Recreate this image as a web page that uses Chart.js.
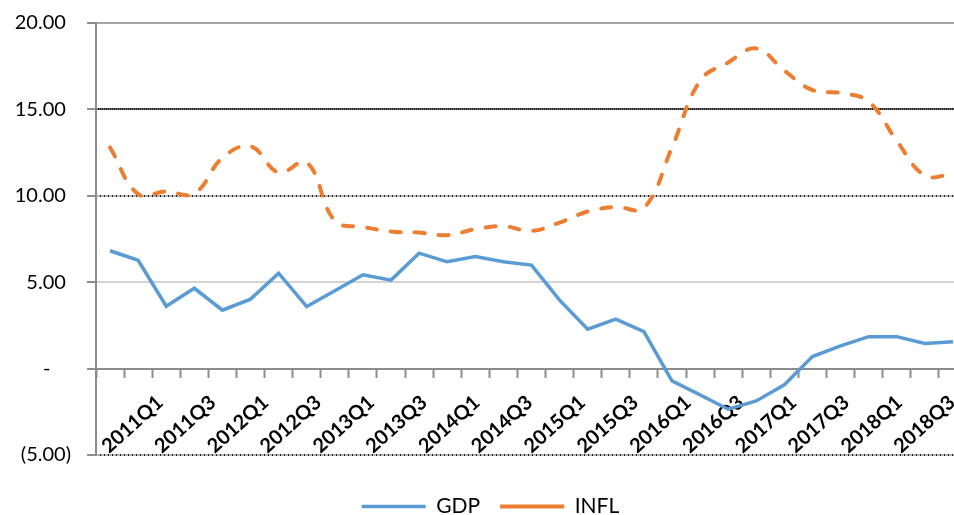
<!DOCTYPE html>
<html>
<head>
<meta charset="utf-8">
<script src="https://cdn.jsdelivr.net/npm/chart.js@4.4.1/dist/chart.umd.min.js"></script>
<style>
  html, body { margin: 0; padding: 0; overflow: hidden; background: #fff; }
  #wrap { width: 994px; height: 515px; }
</style>
</head>
<body>
<div id="wrap"><canvas id="gdpChart"></canvas></div>
<script>
// quarterly data, 2011Q1 .. 2018Q3
var quarters = ["2011Q1","2011Q2","2011Q3","2011Q4","2012Q1","2012Q2","2012Q3","2012Q4",
                "2013Q1","2013Q2","2013Q3","2013Q4","2014Q1","2014Q2","2014Q3","2014Q4",
                "2015Q1","2015Q2","2015Q3","2015Q4","2016Q1","2016Q2","2016Q3","2016Q4",
                "2017Q1","2017Q2","2017Q3","2017Q4","2018Q1","2018Q2","2018Q3"];
var gdp  = [6.82, 6.27, 3.61, 4.65, 3.38, 4.02, 5.52, 3.59, 4.50, 5.43, 5.12, 6.68, 6.18, 6.49, 6.18, 5.99,
            3.96, 2.28, 2.86, 2.14, -0.71, -1.52, -2.35, -1.87, -0.94, 0.70, 1.31, 1.85, 1.85, 1.45, 1.56];
var infl = [12.80, 10.10, 10.25, 10.13, 12.20, 12.86, 11.35, 11.93, 8.55, 8.20, 7.93, 7.87, 7.72, 8.07, 8.24, 7.97,
            8.45, 9.09, 9.35, 9.30, 12.80, 16.66, 17.72, 18.53, 17.24, 16.12, 15.95, 15.45, 13.18, 11.18, 11.26];
var yMin = -5, yMax = 20, yStep = 5;

// every other quarter gets a label; excel spreads them a bit tighter than the categories
var shownLabels = quarters.filter(function(q, i) { return i % 2 === 0; });
var labelMin = -1.212, labelMax = 15.284;

var canvas = document.getElementById("gdpChart");
var ctx = canvas.getContext("2d");

function dotted(bg, dot, step) {
  var c = document.createElement("canvas");
  c.width = step; c.height = 4;
  var g = c.getContext("2d");
  g.fillStyle = bg; g.fillRect(0, 0, step, 4);
  g.fillStyle = dot; g.fillRect(0, 0, 1, 4);
  return ctx.createPattern(c, "repeat");
}
var darkDots = dotted("#6e6e6e", "#1a1a1a", 2);
var lightDots = dotted("#b8b8b8", "#202020", 4);

function gridColor(c) {
  var v = c.tick.value;
  if (v == 20) return "#a6a6a6";
  if (v == 15) return darkDots;
  if (v == 5) return "#d4d4d4";
  if (v == 0) return "#8c8c8c";
  return lightDots;
}

function accounting(v) {
  if (v == 0) return "-    ";
  if (v < 0) return "(" + Math.abs(v).toFixed(2) + ")";
  return v.toFixed(2) + " ";
}

var font = "Lato";

new Chart(ctx, {
  type: "line",
  data: {
    labels: quarters,
    datasets: [
      {
        label: "GDP",
        data: gdp,
        borderColor: "#5b9bd5",
        backgroundColor: "#5b9bd5",
        borderWidth: 3.5,
        pointRadius: 0,
        tension: 0,
        fill: false
      },
      {
        label: "INFL",
        data: infl,
        borderColor: "#ed7d31",
        backgroundColor: "#ed7d31",
        borderWidth: 4,
        borderDash: [10, 14],
        borderCapStyle: "round",
        pointRadius: 0,
        tension: 0.4,
        fill: false
      }
    ]
  },
  options: {
    responsive: true,
    maintainAspectRatio: false,
    animation: false,
    devicePixelRatio: 1,
    layout: { padding: { top: 0, right: 27, bottom: -12, left: 14 } },
    plugins: {
      tooltip: { enabled: false },
      legend: {
        position: "bottom",
        title: { display: true, text: "", font: { size: 17.5 }, padding: 0 },
        labels: {
          usePointStyle: true,
          pointStyle: "line",
          pointStyleWidth: 64,
          padding: 20,
          color: "#000",
          font: { family: font, size: 21 }
        }
      }
    },
    scales: {
      x: {
        position: { y: 0 },
        offset: true,
        grid: { offset: true, drawOnChartArea: false, tickLength: 8, tickColor: "#8c8c8c", tickWidth: 2 },
        border: { color: "#8c8c8c", width: 2 },
        ticks: { display: false }
      },
      xLab: {
        type: "linear",
        axis: "x",
        position: { y: 0 },
        bounds: "data",
        min: labelMin,
        max: labelMax,
        grid: { display: false },
        border: { display: false },
        afterBuildTicks: function(s) {
          s.ticks = shownLabels.map(function(q, i) { return { value: i }; });
        },
        ticks: {
          autoSkip: false,
          minRotation: 42,
          maxRotation: 42,
          padding: 14,
          color: "#000",
          font: { family: font, size: 20, weight: "bold" },
          callback: function(v) { return shownLabels[v]; }
        }
      },
      y: {
        min: yMin,
        max: yMax,
        grid: { color: gridColor, lineWidth: 2, tickColor: "#8c8c8c", tickLength: 9, tickWidth: 2 },
        border: { color: "#8c8c8c", width: 2 },
        ticks: {
          stepSize: yStep,
          padding: 16,
          color: "#000",
          font: { family: font, size: 20, lineHeight: 0.7 },
          callback: accounting
        },
        afterFit: function(s) { s.width = 82; }
      }
    }
  }
});
</script>
</body>
</html>
